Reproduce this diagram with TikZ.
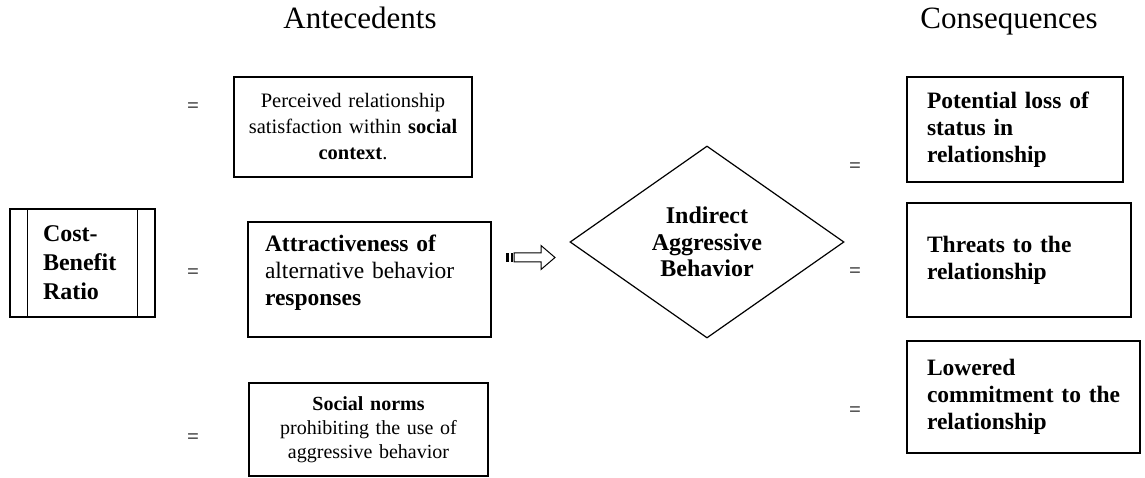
\documentclass[tikz,border=0pt]{standalone}
\usepackage{fontspec}
\setmainfont{Liberation Serif}
\usetikzlibrary{shapes.geometric}
\newcommand{\fsz}[2]{\fontsize{#1}{#2}\selectfont}

\begin{document}
\begin{tikzpicture}[x=1pt,y=-1pt,
    box/.style={draw,line width=1.4pt,inner ysep=0pt},
    rbox/.style={box,inner xsep=20pt,align=left,font=\bfseries\fsz{23.5}{27}},
    head/.style={anchor=base,font=\fsz{31}{35}},
    eq/.style={font=\fsz{21}{24}}]
        \useasboundingbox (0,0) rectangle (1145,478);

        \node[head] (ante) at (360,29) {Antecedents};
        \node[head] (cons) at (1009,29) {Consequences};

        % left side
        \node[box,minimum width=145pt,minimum height=108pt,inner xsep=33pt,text width=79pt,align=left,font=\bfseries\fsz{24}{29}] (cbr) at (82.5,263) {Cost-\\Benefit\\Ratio};
        \draw[line width=1.4pt] ([xshift=18pt]cbr.north west) -- ([xshift=18pt]cbr.south west);
        \draw[line width=1.4pt] ([xshift=-18pt]cbr.north east) -- ([xshift=-18pt]cbr.south east);

        \node[eq] (eqa) at (193,108) {=};
        \node[eq] (eqb) at (193,274) {=};
        \node[eq] (eqc) at (193,439) {=};

        % antecedents
        \node[box,minimum width=238pt,minimum height=100pt,text width=226pt,align=center,font=\fsz{20.5}{26}] (perc) at (353,127) {Perceived relationship\\satisfaction within \textbf{social}\\\textbf{context}.};
        \node[box,minimum width=243pt,minimum height=115pt,inner xsep=17pt,text width=209pt,text depth=72pt,align=left,font=\fsz{23.5}{27}] (attr) at (369.5,279.5) {\textbf{Attractiveness of}\\alternative behavior\\\textbf{responses}};
        \node[box,minimum width=239pt,minimum height=93pt,text width=227pt,align=center,font=\fsz{20}{24}] (norm) at (368.5,429.5) {\textbf{Social norms}\\prohibiting the use of\\aggressive behavior};

        % striped arrow
        \fill (506,253) rectangle (509,262);
        \fill (510.5,253) rectangle (512.5,262);
        \draw[line width=1pt] (514,253) -- (541,253) -- (541,245.5) -- (555,257.5) -- (541,269.5) -- (541,262) -- (514,262) -- cycle;

        \node[draw,diamond,line width=1.2pt,minimum width=274pt,minimum height=192pt,inner sep=0pt,aspect=1.43,align=center,font=\bfseries\fsz{24}{26.5}] (ind) at (707,242) {Indirect\\Aggressive\\Behavior};

        % consequences
        \node[eq] (eqd) at (855,168) {=};
        \node[eq] (eqe) at (855,273) {=};
        \node[eq] (eqf) at (855,412) {=};

        \node[rbox,minimum width=216pt,minimum height=105pt,text width=176pt] (pot) at (1015,129.5) {Potential loss of\\status in\\relationship};
        \node[rbox,minimum width=224pt,minimum height=114pt,text width=184pt] (thr) at (1019,260) {Threats to the\\relationship};
        \node[rbox,minimum width=233pt,minimum height=112pt,text width=193pt] (low) at (1023.5,397) {Lowered\\\mbox{commitment to the}\\relationship};
    \end{tikzpicture}
\end{document}
